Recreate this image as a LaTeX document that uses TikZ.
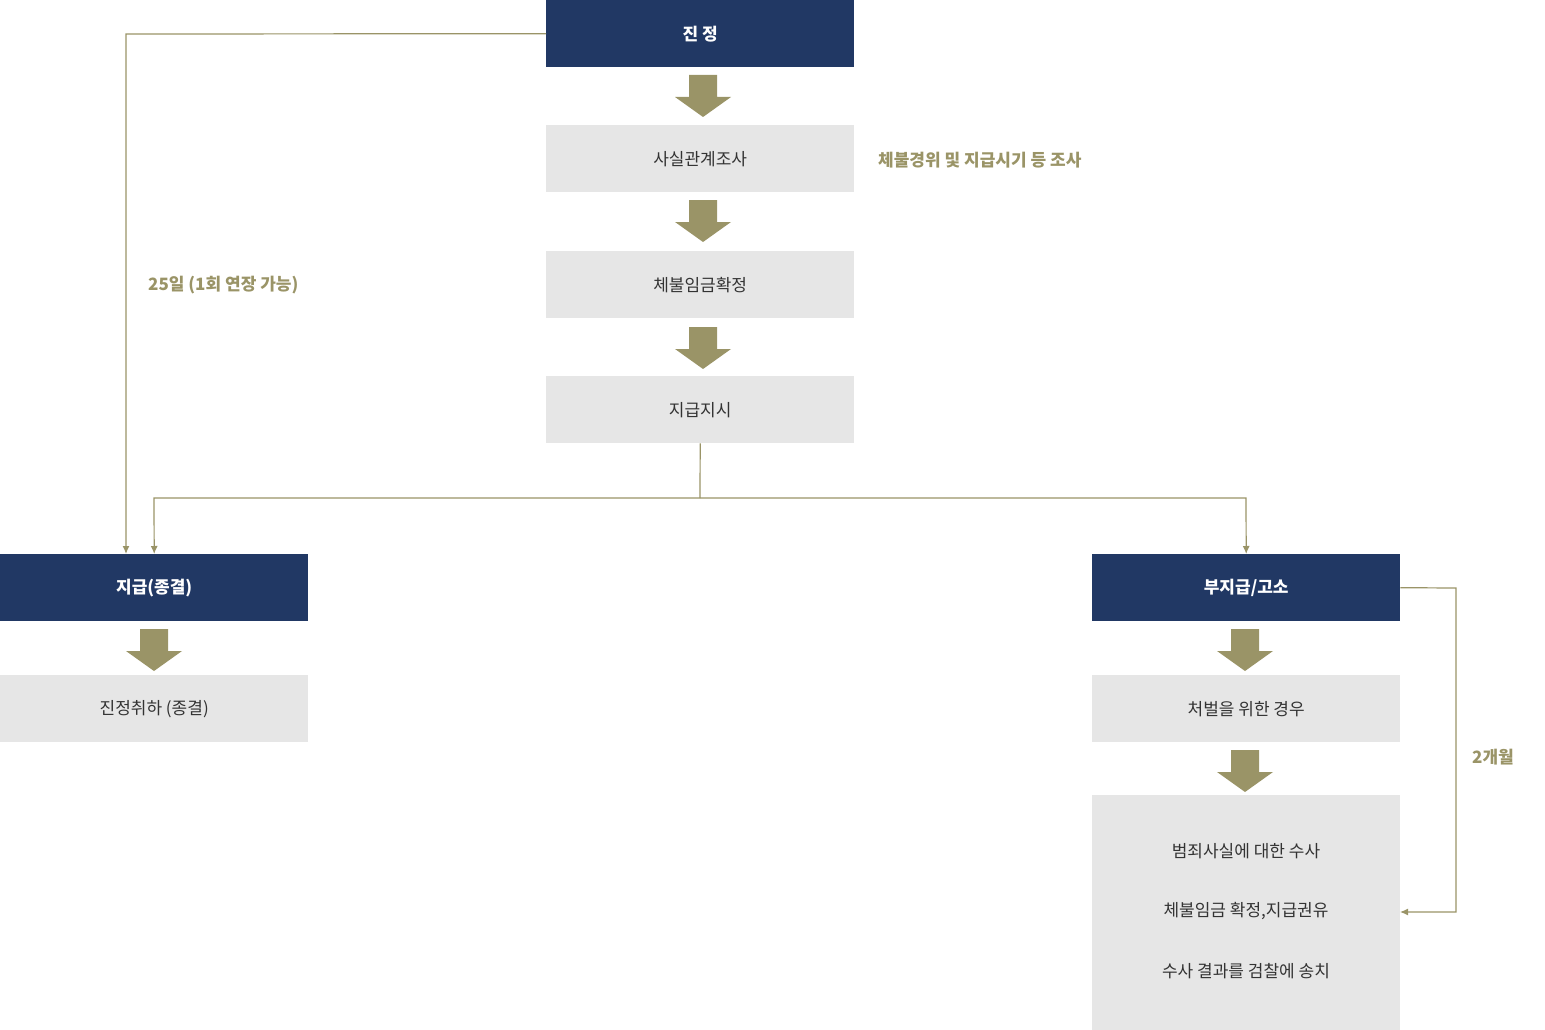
\documentclass[tikz,border=0pt]{standalone}
\usepackage{fontspec}
\setmainfont{Noto Sans CJK KR}
\begin{document}
\begin{tikzpicture}[x=1pt,y=-1pt,
 navy/.style={fill=nv,draw=none,minimum width=308pt,minimum height=67pt,text=white,font=\fontsize{17}{20}\selectfont\bfseries,anchor=north west,inner sep=0},
 gray/.style={fill=gb,draw=none,minimum width=308pt,minimum height=67pt,text=black!80,font=\fontsize{17}{20}\selectfont,anchor=north west,inner sep=0},
 lab/.style={text=ol,font=\fontsize{17}{20}\selectfont\bfseries,anchor=west,inner sep=0},
 ln/.style={draw=ol,line width=1.2pt},
 arr/.style={ln,-{Latex[length=8pt,width=7pt]}}]
\definecolor{nv}{HTML}{213864}
\definecolor{gb}{HTML}{E6E6E6}
\definecolor{ol}{HTML}{9A9467}
\usetikzlibrary{arrows.meta}
\useasboundingbox (0,0) rectangle (1545,1030);
\newcommand\barrow[2]{\fill[ol] (#1-14,#2) -- (#1+14,#2) -- (#1+14,#2+22) -- (#1+28,#2+22) -- (#1,#2+42) -- (#1-28,#2+22) -- (#1-14,#2+22) -- cycle;}
\node[navy] (a) at (546,0) {진 정};
\node[gray] (b) at (546,125) {사실관계조사};
\node[gray] (c) at (546,251) {체불임금확정};
\node[gray] (d) at (546,376) {지급지시};
\node[navy] (e) at (0,554) {지급(종결)};
\node[gray] (f) at (0,675) {진정취하 (종결)};
\node[navy] (g) at (1092,554) {부지급/고소};
\node[gray] (h) at (1092,675) {처벌을 위한 경우};
\node[fill=gb,minimum width=308pt,minimum height=235pt,anchor=north west,inner sep=0] (i) at (1092,795) {};
\node[font=\fontsize{17}{20}\selectfont,text=black!80] (i1) at (1246,851) {범죄사실에 대한 수사};
\node[font=\fontsize{17}{20}\selectfont,text=black!80] (i2) at (1246,911) {체불임금 확정,지급권유};
\node[font=\fontsize{17}{20}\selectfont,text=black!80] (i3) at (1246,971) {수사 결과를 검찰에 송치};
\barrow{703}{75}\barrow{703}{200}\barrow{703}{327}
\barrow{154}{629}\barrow{1245}{629}\barrow{1245}{750}
\node[lab] (l1) at (878,160) {체불경위 및 지급시기 등 조사};
\node[lab] (l2) at (148,285) {25일 (1회 연장 가능)};
\node[lab] (l3) at (1472,757) {2개월};
\coordinate (p1) at (126,34);
\coordinate (j) at (700,498);
\draw[arr] (a.west) -- (p1) -- (126,554);
\draw[ln] (d.south) -- (j);
\draw[arr] (j) -- (154,498) -- (e.north);
\draw[arr] (j) -- (1246,498) -- (g.north);
\draw[arr] (g.east) -- (1456,588) -- (1456,912) -- (1400,912);
\end{tikzpicture}
\end{document}
